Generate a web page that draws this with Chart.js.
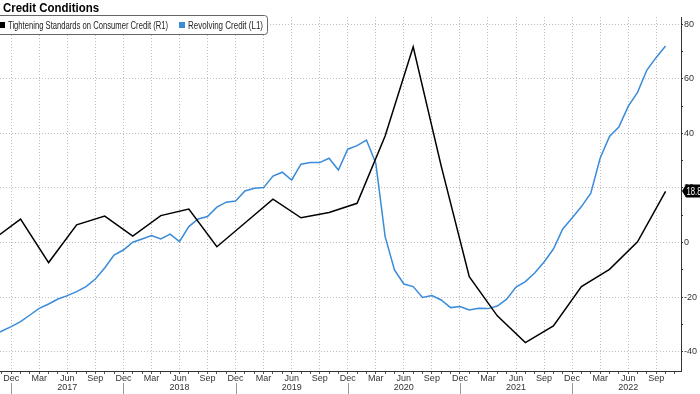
<!DOCTYPE html>
<html>
<head>
<meta charset="utf-8">
<script src="https://cdn.jsdelivr.net/npm/chart.js@4.4.0/dist/chart.umd.min.js"></script>
<style>
  html, body { margin: 0; padding: 0; background: #fff; }
  #wrap { width: 700px; height: 394px; }
</style>
</head>
<body>
<div id="wrap"><canvas id="creditChart" width="700" height="394"></canvas></div>
<script>
// ===================================================================
// CREDIT CONDITIONS - tightening standards vs revolving credit
// ===================================================================

// quarterly survey dates (SLOOS) and net % tightening, right axis
const tighteningDates = [
    '2016-10', '2017-01', '2017-04', '2017-07', '2017-10', '2018-01', '2018-04',
    '2018-07', '2018-10', '2019-01', '2019-04', '2019-07', '2019-10', '2020-01',
    '2020-04', '2020-07', '2020-10', '2021-01', '2021-04', '2021-07', '2021-10',
    '2022-01', '2022-04', '2022-07', '2022-10'
];
const tighteningValues = [
    1.0, 8.6, -7.3, 6.5, 9.7, 2.4, 9.9,
    12.3, -1.5, 7.2, 15.9, 9.1, 11.0, 14.4,
    39.0, 71.7, 28.0, -12.5, -26.8, -36.6, -30.5,
    -16.1, -9.8, 0.3, 18.8
];

// monthly revolving credit ($bn), hidden left axis, first month below
const revolvingStart = '2016-10';
const revolvingValues = [
    1002.0, 1004.5, 1006.7, 1009.2, 1012.5, 1015.8, 1018.0, 1020.5, 1022.2, 1024.2,
    1026.7, 1030.5, 1036.0, 1042.5, 1045.0, 1048.9, 1050.5, 1052.2, 1050.5, 1052.9,
    1049.2, 1056.7, 1060.5, 1061.7, 1066.4, 1068.9, 1069.5, 1074.5, 1075.9, 1076.2,
    1082.0, 1083.9, 1080.0, 1087.9, 1088.7, 1088.7, 1090.9, 1085.0, 1095.4, 1097.2,
    1100.0, 1088.4, 1051.7, 1035.0, 1028.0, 1026.7, 1021.3, 1022.2, 1020.0, 1016.2,
    1016.7, 1015.0, 1015.9, 1015.7, 1017.0, 1020.4, 1026.5, 1029.2, 1033.5, 1039.0,
    1045.5, 1055.5, 1061.0, 1066.7, 1073.4, 1090.9, 1101.8, 1106.5, 1116.8, 1123.8,
    1135.0, 1141.3, 1147.0
];

const rightTicks = [-40, -20, 0, 20, 40, 60, 80];
const monthNames = ['Dec', 'Jan', 'Feb', 'Mar', 'Apr', 'May', 'Jun', 'Jul', 'Aug', 'Sep', 'Oct', 'Nov'];

const BLACK = '#000000';
const BLUE = '#3a8bd9';
const FONT = "'Liberation Sans Narrow', 'Liberation Sans', Arial, sans-serif";

// month index, 0 = Dec 2016
function monthIndex(s) {
    const [y, m] = s.split('-').map(Number);
    return (y - 2016) * 12 + (m - 12);
}

const startIdx = monthIndex(revolvingStart);
const tighteningPoints = tighteningDates.map((d, i) => ({ x: monthIndex(d), y: tighteningValues[i] }));
const revolvingPoints = revolvingValues.map((v, i) => ({ x: startIdx + i, y: v }));

function fitText(ctx, text, x, y, width, font, color) {
    ctx.font = font;
    const w = ctx.measureText(text).width;
    ctx.save();
    ctx.translate(x, y);
    ctx.scale(width / w, 1);
    ctx.fillStyle = color;
    ctx.textBaseline = 'alphabetic';
    ctx.textAlign = 'left';
    ctx.fillText(text, 0, 0);
    ctx.restore();
}

const decorations = {
    id: 'decorations',
    afterDraw(chart) {
        const ctx = chart.ctx;
        const xs = chart.scales.x;
        const yR = chart.scales.yR;

        // title
        fitText(ctx, 'Credit Conditions', 3, 12, 96, "bold 12px 'Liberation Sans', Arial", '#000');

        // legend box
        ctx.save();
        ctx.beginPath();
        ctx.roundRect(-3.5, 15.5, 271, 19, 3);
        ctx.fillStyle = '#fff';
        ctx.fill();
        ctx.strokeStyle = '#666';
        ctx.lineWidth = 1;
        ctx.stroke();
        ctx.fillStyle = BLACK;
        ctx.fillRect(-1, 22, 6, 6);
        ctx.fillStyle = BLUE;
        ctx.fillRect(179, 22, 6, 6);
        ctx.restore();
        fitText(ctx, 'Tightening Standards on Consumer Credit (R1)', 8, 29, 160, "10px 'Liberation Sans', Arial", '#222');
        fitText(ctx, 'Revolving Credit (L1)', 188, 29, 75, "10px 'Liberation Sans', Arial", '#222');

        // year separators under Dec
        ctx.save();
        ctx.strokeStyle = '#999';
        ctx.lineWidth = 1;
        for (let i = 0; i <= 72; i += 12) {
            const px = Math.round(xs.getPixelForValue(i)) + 0.5;
            if (px < xs.left || px > xs.right) continue;
            ctx.beginPath();
            ctx.moveTo(px, 383);
            ctx.lineTo(px, 394);
            ctx.stroke();
        }
        ctx.restore();

        // last value tag
        const last = tighteningValues[tighteningValues.length - 1];
        const c = Math.round(yR.getPixelForValue(last));
        ctx.save();
        ctx.beginPath();
        ctx.moveTo(682, c);
        ctx.lineTo(686, c - 6.5);
        ctx.lineTo(700, c - 6.5);
        ctx.lineTo(700, c + 6.5);
        ctx.lineTo(686, c + 6.5);
        ctx.closePath();
        ctx.fillStyle = '#000';
        ctx.fill();
        ctx.restore();
        fitText(ctx, last.toFixed(1), 686.5, c + 4, 15, "10px 'Liberation Sans', Arial", '#fff');
    }
};

new Chart(document.getElementById('creditChart'), {
    type: 'line',
    data: {
        datasets: [{
            label: 'Tightening Standards on Consumer Credit (R1)',
            data: tighteningPoints,
            yAxisID: 'yR',
            borderColor: BLACK,
            borderWidth: 1.5,
            pointRadius: 0,
            tension: 0
        }, {
            label: 'Revolving Credit (L1)',
            data: revolvingPoints,
            yAxisID: 'yL',
            borderColor: BLUE,
            borderWidth: 1.5,
            pointRadius: 0,
            tension: 0
        }]
    },
    options: {
        responsive: false,
        animation: false,
        devicePixelRatio: 1,
        layout: { padding: { top: 17, left: 0, right: 0, bottom: 0 }, autoPadding: false },
        plugins: {
            legend: { display: false },
            title: { display: false },
            tooltip: { enabled: false }
        },
        scales: {
            x: {
                type: 'linear',
                min: -1.2,
                max: 71.65,
                afterBuildTicks: s => {
                    const t = [];
                    for (let i = -1; i <= 71; i++) t.push({ value: i });
                    s.ticks = t;
                },
                afterFit: s => { s.height = 23; },
                grid: {
                    color: ctx => (ctx.tick && ctx.tick.value % 3 === 0) ? '#bdbdbd' : 'rgba(0,0,0,0)',
                    tickColor: '#555',
                    tickLength: 3,
                    lineWidth: 1
                },
                border: { display: true, color: '#333', width: 1, dash: [1, 2] },
                ticks: {
                    autoSkip: false,
                    maxRotation: 0,
                    padding: 0,
                    color: '#333',
                    font: { family: FONT, size: 9, lineHeight: 1.0 },
                    callback: v => {
                        if (v % 3 !== 0) return '';
                        const m = monthNames[((v % 12) + 12) % 12];
                        const year = 2016 + Math.floor((v + 11) / 12);
                        return m === 'Jun' ? [m, String(year)] : m;
                    }
                }
            },
            yL: {
                type: 'linear',
                position: 'left',
                display: false,
                min: 984.5,
                max: 1161.5
            },
            yR: {
                type: 'linear',
                position: 'right',
                min: -47,
                max: 82.6,
                afterBuildTicks: s => {
                    const t = [];
                    for (let v = -40; v <= 80; v += 10) t.push({ value: v });
                    s.ticks = t;
                },
                afterFit: s => { s.width = 19; },
                grid: {
                    color: ctx => (ctx.tick && rightTicks.includes(ctx.tick.value)) ? '#bdbdbd' : 'rgba(0,0,0,0)',
                    tickColor: '#333',
                    tickLength: 2,
                    lineWidth: 1
                },
                border: { display: true, color: '#333', width: 1, dash: [1, 2] },
                ticks: {
                    padding: 1,
                    color: '#333',
                    font: { family: FONT, size: 9 },
                    callback: v => rightTicks.includes(v) ? String(v) : ''
                }
            }
        }
    },
    plugins: [decorations]
});
</script>
</body>
</html>
